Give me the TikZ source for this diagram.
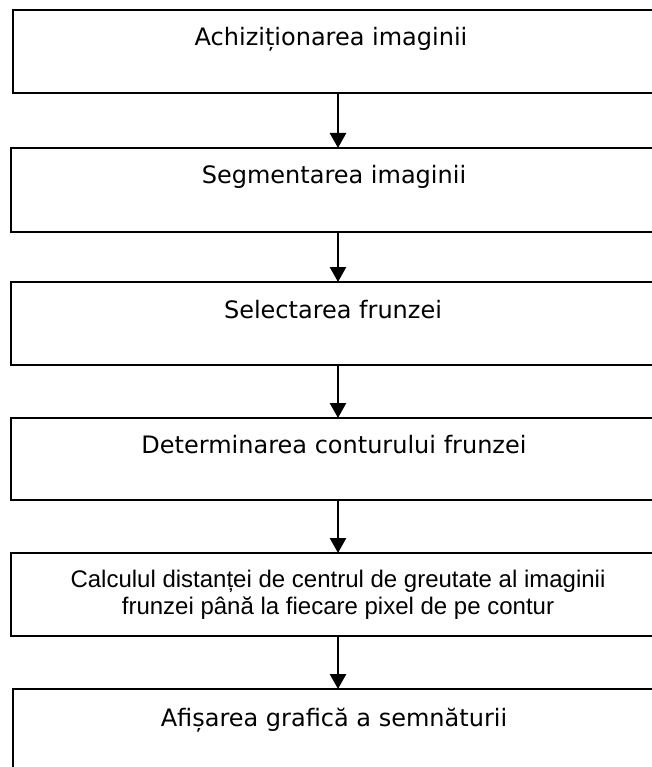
\documentclass[tikz,border=0pt]{standalone}
\usepackage{fontspec}
\setmainfont{DejaVu Sans}
\newfontfamily\arialfont{Liberation Sans}
\usetikzlibrary{arrows.meta}
\tikzset{
  box/.style={draw=black, line width=2.2pt, rectangle, minimum width=660pt, minimum height=83pt, inner sep=0pt, outer sep=0pt, anchor=north west},
  lbl/.style={anchor=base, inner sep=0pt, font=\fontsize{24}{28}\selectfont},
  lblarial/.style={anchor=north, inner sep=0pt, align=center, font=\arialfont\fontsize{24}{27}\selectfont},
  arr/.style={line width=2.6pt, -{Triangle[width=16pt,length=15pt]}, shorten >=0pt}
}
\begin{document}
\begin{tikzpicture}
\useasboundingbox (0pt,0pt) rectangle (652pt,-767pt);
\clip (0pt,0pt) rectangle (652pt,-767pt);
\node[box] (b1) at (13pt,-10pt) {};
\node[box, minimum height=84pt] (b2) at (11pt,-148pt) {};
\node[box] (b3) at (11pt,-282pt) {};
\node[box, minimum height=82pt] (b4) at (11pt,-418pt) {};
\node[box] (b5) at (11pt,-553pt) {};
\node[box, minimum height=90pt] (b6) at (13pt,-689pt) {};
\node[lbl] (t1) at (331pt,-46pt) {Achiziționarea imaginii};
\node[lbl] (t2) at (334pt,-184pt) {Segmentarea imaginii};
\node[lbl] (t3) at (333pt,-318pt) {Selectarea frunzei};
\node[lbl] (t4) at (334pt,-453pt) {Determinarea conturului frunzei};
\node[lblarial] (t5) at (338pt,-570pt) {Calculul distanței de centrul de greutate al imaginii\\frunzei până la fiecare pixel de pe contur};
\node[lbl] (t6) at (334pt,-726pt) {Afișarea grafică a semnăturii};
\coordinate (x) at (338pt,0pt);
\draw[arr] (b1.south -| x) -- (b2.north -| x);
\draw[arr] (b2.south -| x) -- (b3.north -| x);
\draw[arr] (b3.south -| x) -- (b4.north -| x);
\draw[arr] (b4.south -| x) -- (b5.north -| x);
\draw[arr] (b5.south -| x) -- (b6.north -| x);
\end{tikzpicture}
\end{document}
